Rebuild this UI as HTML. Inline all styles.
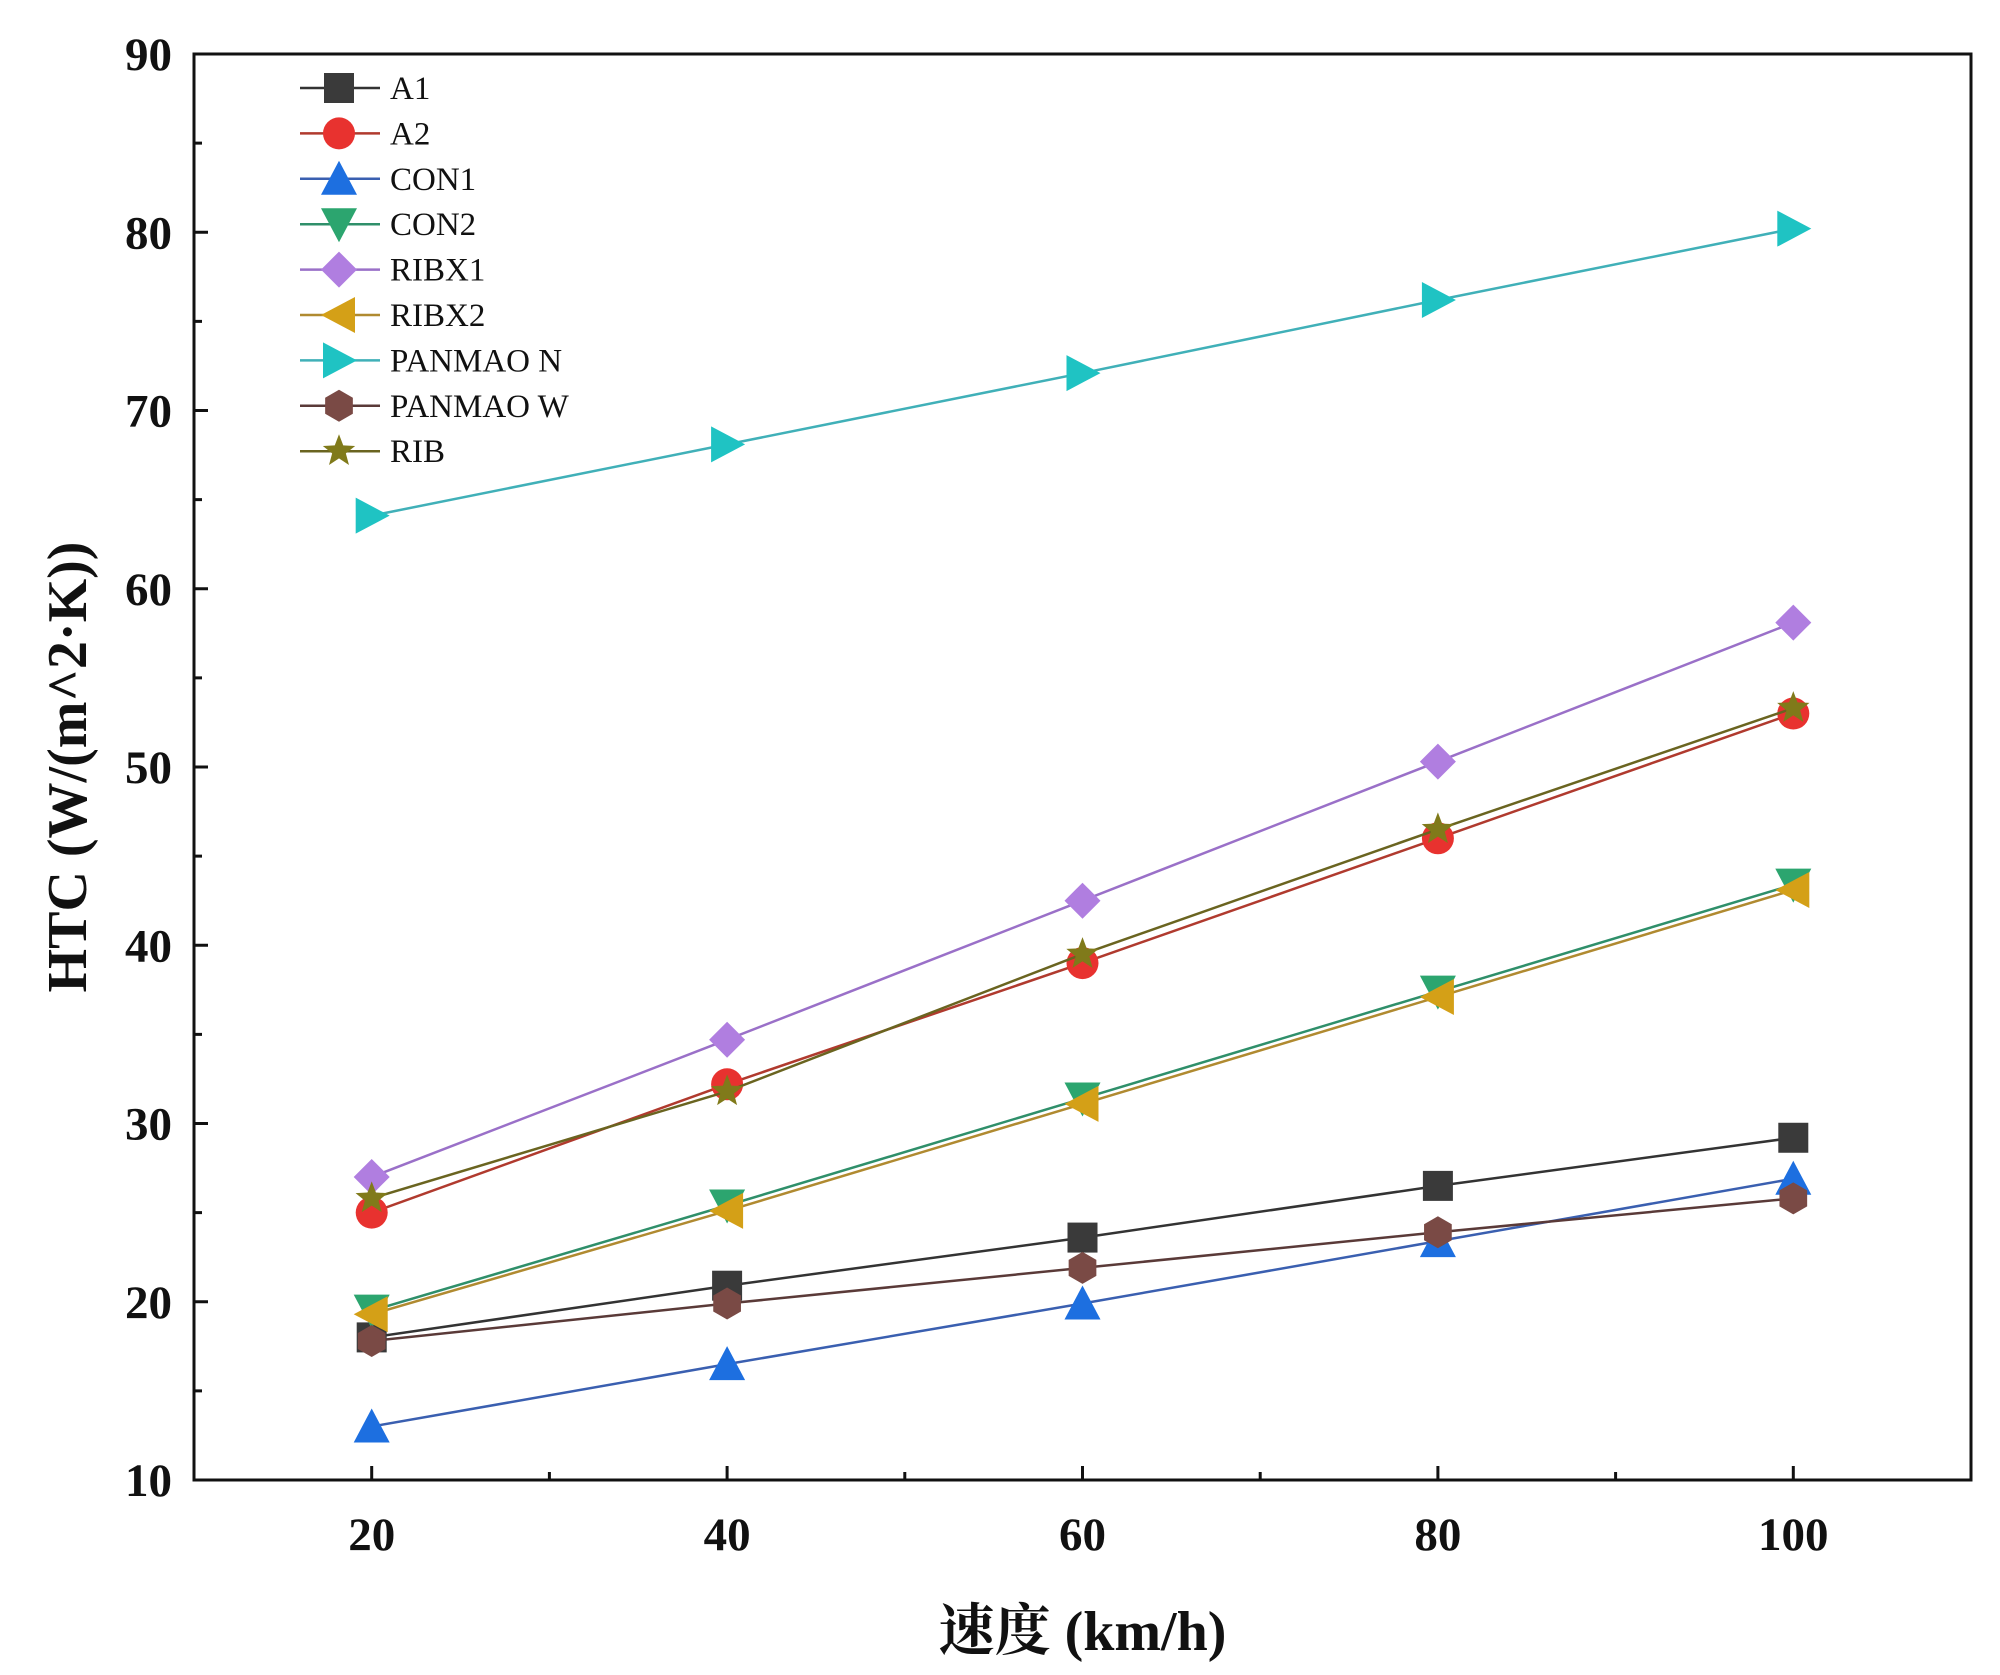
<!DOCTYPE html>
<html><head><meta charset="utf-8"><style>
html,body{margin:0;padding:0;background:#fff;}
svg text{font-family:"Liberation Serif","Noto Serif CJK SC",serif;font-weight:bold;fill:#111;}
</style></head><body>
<svg id="chart" width="2000" height="1670" viewBox="0 0 2000 1670" xmlns="http://www.w3.org/2000/svg"></svg>
<script>
const categories = [20, 40, 60, 80, 100];
const seriesNames = ["A1","A2","CON1","CON2","RIBX1","RIBX2","PANMAO N","PANMAO W","RIB"];
const a1 = [18, 20.9, 23.6, 26.5, 29.2];
const a2 = [25, 32.2, 39, 46, 53];
const con1 = [13, 16.5, 19.9, 23.4, 26.9];
const con2 = [19.5, 25.4, 31.4, 37.4, 43.4];
const ribx1 = [27, 34.7, 42.5, 50.3, 58.1];
const ribx2 = [19.3, 25.1, 31.1, 37.1, 43.1];
const panmaoN = [64.1, 68.1, 72.1, 76.2, 80.2];
const panmaoW = [17.8, 19.9, 21.9, 23.9, 25.8];
const rib = [25.8, 31.8, 39.5, 46.5, 53.3];
const yTicks = [10,20,30,40,50,60,70,80,90];
const xTicks = [20,40,60,80,100];

const seriesValues = [a1,a2,con1,con2,ribx1,ribx2,panmaoN,panmaoW,rib];
const fills = ["#3a3a3a","#e8322f","#1d6fe0","#2ca56f","#b07ee0","#d4a017","#1fc3c3","#7a4a45","#807a1a"];
const strokes = ["#333","#b03a2e","#3a5fb0","#2f8f6a","#9a70c8","#b08a30","#40b0b8","#5a3a38","#6a6420"];
const shapes = ["square","circle","up","down","diamond","left","right","hex","star"];

const svg = document.getElementById('chart');
const NS = "http://www.w3.org/2000/svg";
const L=194, R=1971, T=54, B=1480;
const xMin=10, xMax=110, yMin=10, yMax=90;
const xs = v => L + (v-xMin)/(xMax-xMin)*(R-L);
const ys = v => B - (v-yMin)/(yMax-yMin)*(B-T);
function mk(tag, attrs, parent){const e=document.createElementNS(NS,tag);for(const k in attrs)e.setAttribute(k,attrs[k]);(parent||svg).appendChild(e);return e;}

function marker(shape, cx, cy, fill, g){
  const s=16; let e;
  if(shape==="square") e=mk('rect',{x:cx-s+1,y:cy-s+1,width:2*s-2,height:2*s-2,fill:fill},g);
  else if(shape==="circle") e=mk('circle',{cx:cx,cy:cy,r:s,fill:fill},g);
  else {
    let pts=[];
    if(shape==="up") pts=[[0,-s-2],[s+2,s],[-s-2,s]];
    if(shape==="down") pts=[[0,s+2],[s+2,-s],[-s-2,-s]];
    if(shape==="left") pts=[[-s-2,0],[s,-s-2],[s,s+2]];
    if(shape==="right") pts=[[s+2,0],[-s,-s-2],[-s,s+2]];
    if(shape==="diamond") pts=[[0,-s-2],[s+2,0],[0,s+2],[-s-2,0]];
    if(shape==="hex") for(let i=0;i<6;i++){const a=Math.PI/6+i*Math.PI/3;pts.push([s*Math.cos(a),s*Math.sin(a)]);}
    if(shape==="star") for(let i=0;i<10;i++){const a=-Math.PI/2+i*Math.PI/5;const r=i%2?s*0.45:s+1;pts.push([r*Math.cos(a),r*Math.sin(a)]);}
    e=mk('polygon',{points:pts.map(p=>(cx+p[0])+','+(cy+p[1])).join(' '),fill:fill},g);
  }
  return e;
}

const frame=mk('rect',{x:L,y:T,width:R-L,height:B-T,fill:'none',stroke:'#111','stroke-width':3});



for(let v=10; v<=90; v+=5){
  const y=ys(v); const major=v%10===0;
  mk('line',{x1:L,x2:L+(major?14:8),y1:y,y2:y,stroke:'#111','stroke-width':3});
}
yTicks.forEach(v=>{
  const t=mk('text',{x:L-22,y:ys(v)+16,'text-anchor':'end','font-size':47});
  t.textContent=v;
  
  
});
for(let v=10; v<=110; v+=10){
  const x=xs(v); const major=v%20===0;
  mk('line',{x1:x,x2:x,y1:B,y2:B-(major?14:8),stroke:'#111','stroke-width':3});
}
xTicks.forEach(v=>{
  const t=mk('text',{x:xs(v),y:B+70,'text-anchor':'middle','font-size':47});
  t.textContent=v;
  
  
});
const xt=mk('text',{x:(L+R)/2,y:1650,'text-anchor':'middle','font-size':56});
xt.textContent='速度 (km/h)';


const yt=mk('text',{x:0,y:0,'text-anchor':'middle','font-size':56,transform:`translate(86,${(T+B)/2}) rotate(-90)`});
yt.textContent='HTC (W/(m^2·K))';



seriesValues.forEach((vals,i)=>{
  const g=mk('g',{});
  
  
  mk('polyline',{points:vals.map((v,j)=>xs(categories[j])+','+ys(v)).join(' '),fill:'none',stroke:strokes[i],'stroke-width':2.5},g);
  vals.forEach((v,j)=>{
    const m=marker(shapes[i],xs(categories[j]),ys(v),fills[i],g);
    
    
  });
});

seriesNames.forEach((n,i)=>{
  const y=88+i*45.4;
  const g=mk('g',{});
  
  
  mk('line',{x1:300,x2:380,y1:y,y2:y,stroke:strokes[i],'stroke-width':2.5},g);
  marker(shapes[i],339,y,fills[i],g);
  const t=mk('text',{x:390,y:y+11,'font-size':33},g);
  t.setAttribute('style','font-weight:normal');
  t.textContent=n;
});
</script>
</body></html>
